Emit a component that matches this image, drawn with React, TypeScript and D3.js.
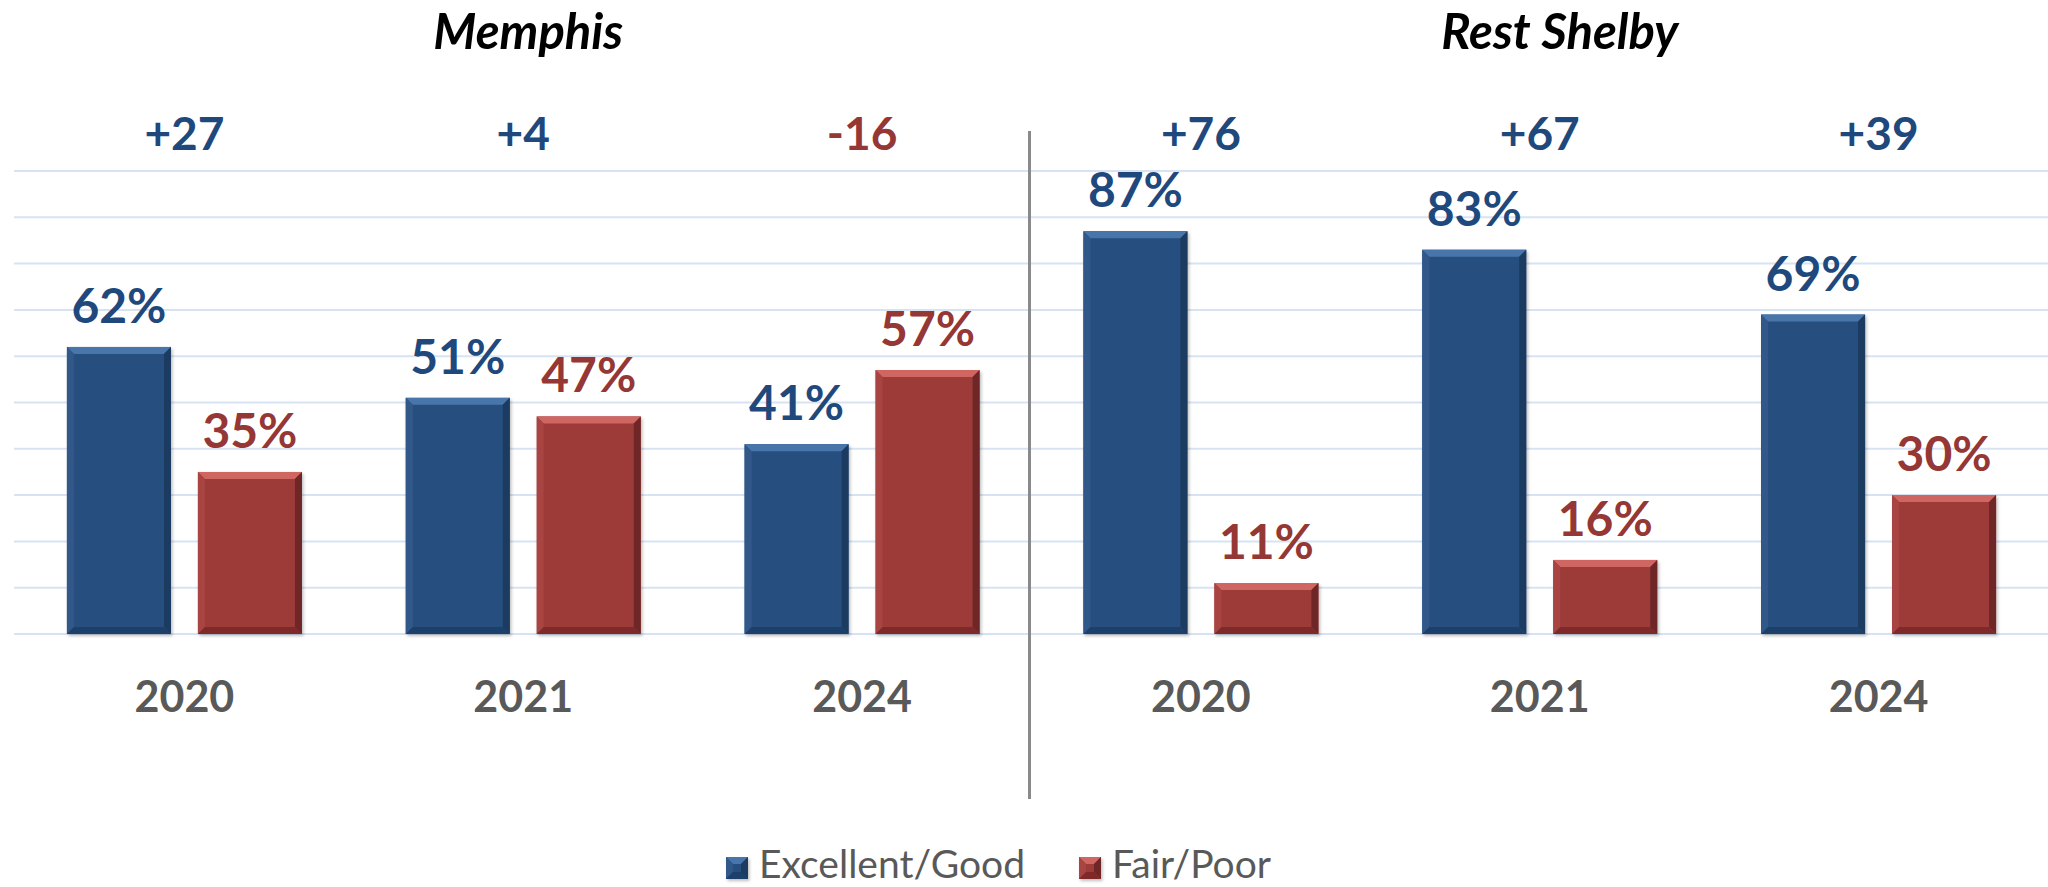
import React from "react";
import * as d3 from "d3";

const groups = ["Memphis", "Rest Shelby"];
const years = ["2020", "2021", "2024"];
const excellentGood = [62, 51, 41, 87, 83, 69];
const fairPoor = [35, 47, 57, 11, 16, 30];
const seriesNames = ["Excellent/Good", "Fair/Poor"];
const gridTicks = [0, 10, 20, 30, 40, 50, 60, 70, 80, 90, 100];

const W = 2048;
const H = 887;
const FONT = "Lato, 'Open Sans', 'Liberation Sans', sans-serif";

const BLUE = { base: "#27507f", top: "#4a76aa", left: "#30598a", right: "#1b3a60", bottom: "#1f4169", label: "#1f497d" };
const RED = { base: "#9d3a39", top: "#cf6662", left: "#a84442", right: "#6e2625", bottom: "#7e2c2b", label: "#953735" };

function Bevel({ x, y, w, h, c }: { x: number; y: number; w: number; h: number; c: typeof BLUE }) {
  const b = Math.min(7, h / 2);
  const p = (pts: number[][]) => pts.map((q) => q.join(",")).join(" ");
  return (
    <g filter="url(#shadow)">
      <rect x={x} y={y} width={w} height={h} fill={c.base} />
      <polygon points={p([[x, y], [x + w, y], [x + w - b, y + b], [x + b, y + b]])} fill={c.top} />
      <polygon points={p([[x, y], [x + b, y + b], [x + b, y + h - b], [x, y + h]])} fill={c.left} />
      <polygon points={p([[x + w, y], [x + w, y + h], [x + w - b, y + h - b], [x + w - b, y + b]])} fill={c.right} />
      <polygon points={p([[x, y + h], [x + w, y + h], [x + w - b, y + h - b], [x + b, y + h - b]])} fill={c.bottom} />
    </g>
  );
}

export default function App() {
  const cats = groups.flatMap((g) => years.map((yr) => `${g}|${yr}`));
  const x = d3.scaleBand<string>().domain(cats).range([15, W]).padding(0);
  const bw = x.bandwidth();
  const inner = d3
    .scaleBand<number>()
    .domain([0, 1])
    .range([(bw - 235) / 2, (bw + 235) / 2])
    .paddingInner(0.206);
  const y = d3.scaleLinear().domain([0, 100]).range([634, 171]);

  const series = [excellentGood, fairPoor];
  const colors = [BLUE, RED];

  const dividerX = (x(cats[3]) as number) - 2;

  return (
    <svg width={W} height={H} style={{ position: "absolute", left: 0, top: 0, background: "#fff" }} fontFamily={FONT}>
      <defs>
        <filter id="shadow" x="-10%" y="-10%" width="130%" height="130%">
          <feDropShadow dx="1.5" dy="2" stdDeviation="1.5" floodColor="#000" floodOpacity="0.25" />
        </filter>
      </defs>
      {gridTicks.map((t) => (
        <line key={t} x1={14} x2={W} y1={y(t)} y2={y(t)} stroke="#d7e3f3" strokeWidth={2} />
      ))}
      <line x1={dividerX} x2={dividerX} y1={131} y2={799} stroke="#8a8a8a" strokeWidth={3} />

      {groups.map((g, gi) => {
        const x0 = x(cats[gi * 3]) as number;
        const x1 = (x(cats[gi * 3 + 2]) as number) + bw;
        const cx = (x0 + x1) / 2 + (gi === 0 ? 5 : 20);
        return (
          <text key={g} x={cx} y={49} textAnchor="middle" fontSize={49} fontWeight={700} fontStyle="italic" fill="#000">
            {g}
          </text>
        );
      })}

      {cats.map((c, i) => {
        const cx = (x(c) as number) + bw / 2;
        const delta = excellentGood[i] - fairPoor[i];
        return (
          <g key={c}>
            <text x={cx} y={150} textAnchor="middle" fontSize={46} fontWeight={700} fill={delta >= 0 ? BLUE.label : RED.label}>
              {delta >= 0 ? `+${delta}` : `${delta}`}
            </text>
            <text x={cx} y={712} textAnchor="middle" fontSize={43} fontWeight={700} fill="#595959">
              {c.split("|")[1]}
            </text>
          </g>
        );
      })}

      {series.map((vals, si) =>
        vals.map((v, i) => {
          const bx = (x(cats[i]) as number) + (inner(si) as number);
          const bwi = inner.bandwidth();
          const top = y(v);
          return (
            <g key={`${si}-${i}`}>
              <Bevel x={bx} y={top} w={bwi} h={y(0) - top} c={colors[si]} />
              <text x={bx + bwi / 2} y={top - 24} textAnchor="middle" fontSize={48} fontWeight={700} fill={colors[si].label}>
                {`${v}%`}
              </text>
            </g>
          );
        })
      )}

      {seriesNames.map((n, si) => {
        const lx = si === 0 ? 726 : 1079;
        return (
          <g key={n}>
            <Bevel x={lx} y={857} w={22} h={22} c={colors[si]} />
            <text x={lx + 33} y={878} fontSize={39} fill="#595959">
              {n}
            </text>
          </g>
        );
      })}
    </svg>
  );
}
